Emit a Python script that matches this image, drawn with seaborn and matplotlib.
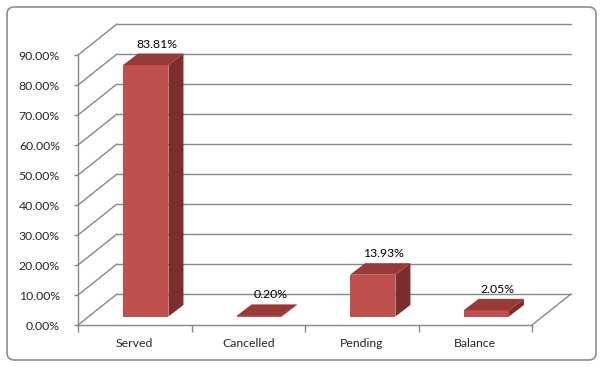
import matplotlib

matplotlib.use("Agg")

import numpy as np
import pandas as pd
import matplotlib.pyplot as plt
import matplotlib.transforms as mtransforms
from matplotlib.patches import Polygon, FancyBboxPatch
import seaborn as sns

# --- data ---
categories = ["Served", "Cancelled", "Pending", "Balance"]
shares = [83.81, 0.20, 13.93, 2.05]
y_ticks = [0, 10, 20, 30, 40, 50, 60, 70, 80, 90]

FRONT = "#C0504D"
TOP = "#983A37"
SIDE = "#7B2E2C"
GRID = "#878787"

sns.set_theme(style="white")
plt.rcParams["font.family"] = ["Lato", "DejaVu Sans"]

W, H = 601, 367
fig = plt.figure(figsize=(W / 100, H / 100), dpi=100)
fig.patch.set_facecolor("white")

# front plane of the 3D box (pixels)
left, right, bottom, top = 78, 532, 325, 55
ax = fig.add_axes([left / W, (H - bottom) / H, (right - left) / W, (bottom - top) / H])
ax.set_facecolor("none")
ax.set_xlim(-0.5, len(categories) - 0.5)
ax.set_ylim(0, 90)

# pixel -> data units
sx = len(categories) / (right - left)
sy = 90 / (bottom - top)

wall_dx, wall_dy = 39 * sx, 31 * sy      # full depth of the chart box
bar_fx, bar_fy = 11 * sx, 8.5 * sy       # bar front offset from front plane
bar_dx, bar_dy = 15 * sx, 11.5 * sy      # bar depth

x0, x1 = ax.get_xlim()

# walls: side gridlines and back wall gridlines
for t in y_ticks:
    ax.plot([x0, x0 + wall_dx], [t, t + wall_dy], color=GRID, lw=1, clip_on=False, zorder=1)
    ax.plot([x0 + wall_dx, x1 + wall_dx], [t + wall_dy, t + wall_dy], color=GRID, lw=1,
            clip_on=False, zorder=1)
# floor right edge
ax.plot([x1, x1 + wall_dx], [0, wall_dy], color=GRID, lw=1, clip_on=False, zorder=1)

df = pd.DataFrame({"status": categories, "share": shares})
sns.barplot(data=df, x="status", y="share", color=FRONT, saturation=1, width=0.4,
            ax=ax, zorder=4, linewidth=0)

bar_offset = mtransforms.Affine2D().translate(bar_fx, bar_fy) + ax.transData
for p, v in zip(ax.patches, shares):
    bx0, bw, h = p.get_x(), p.get_width(), p.get_height()
    bx1 = bx0 + bw
    p.set_transform(bar_offset)
    p.set_clip_on(False)
    side = Polygon([(bx1, 0), (bx1 + bar_dx, bar_dy), (bx1 + bar_dx, h + bar_dy), (bx1, h)],
                   closed=True, facecolor=SIDE, edgecolor="none", transform=bar_offset,
                   clip_on=False, zorder=3)
    lid = Polygon([(bx0, h), (bx1, h), (bx1 + bar_dx, h + bar_dy), (bx0 + bar_dx, h + bar_dy)],
                  closed=True, facecolor=TOP, edgecolor="none", transform=bar_offset,
                  clip_on=False, zorder=5)
    ax.add_patch(side)
    ax.add_patch(lid)
    cx = bx0 + bw / 2
    ax.text(cx + 22 * sx, h + bar_fy + 21 * sy, f"{v:.2f}%", ha="center", va="center",
            fontsize=8.8, color="black", zorder=6, clip_on=False)

ax.set_xlabel("")
ax.set_ylabel("")
ax.set_yticks(y_ticks)
ax.set_yticklabels([f"{t:.2f}%" for t in y_ticks])
ax.set_xticks(range(len(categories)))
ax.set_xticklabels(categories)
ax.set_xticks(np.arange(-0.5, len(categories), 1), minor=True)
ax.tick_params(axis="x", which="major", length=0, pad=9.5, labelsize=8.8)
ax.tick_params(axis="x", which="minor", length=5, width=1, color=GRID, direction="out")
ax.tick_params(axis="y", length=3, width=1, color=GRID, direction="out", pad=10, labelsize=8.8)
ax.xaxis.set_ticks_position("bottom")
ax.yaxis.set_ticks_position("left")
for s in ["top", "right"]:
    ax.spines[s].set_visible(False)
for s in ["left", "bottom"]:
    ax.spines[s].set_color(GRID)
    ax.spines[s].set_linewidth(1)
    ax.spines[s].set_zorder(2)

# chart area border
border = FancyBboxPatch((7 / W, 7 / H), 589 / W, 353 / H,
                        boxstyle="round,pad=0,rounding_size=0.012",
                        mutation_aspect=W / H, transform=fig.transFigure,
                        facecolor="none", edgecolor="#8E8E8E", lw=1.2)
fig.patches.append(border)

fig.savefig("out.png", dpi=100)
